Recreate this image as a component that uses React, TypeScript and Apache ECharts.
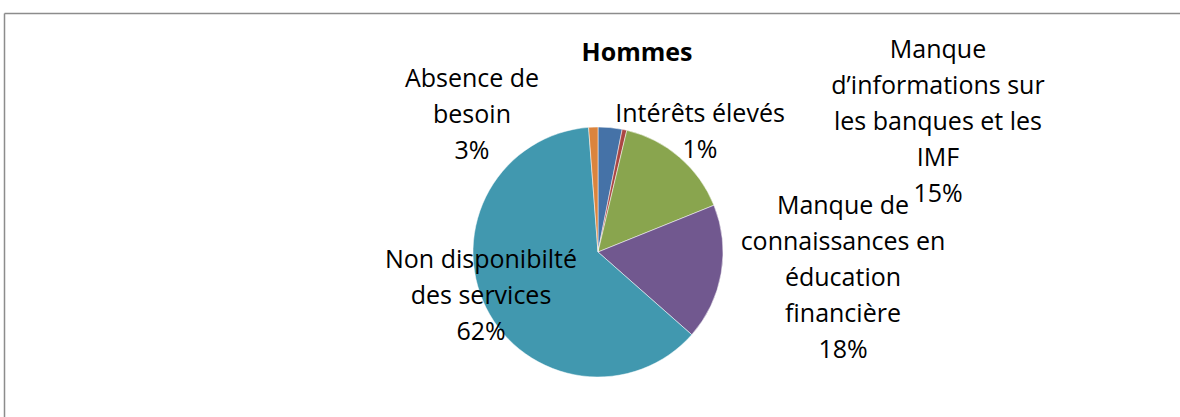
import React, { useEffect, useRef } from "react";
import * as echarts from "echarts";

const titleText = "Hommes";
const categories = [
  "Absence de\nbesoin",
  "Intérêts élevés",
  "Manque\nd’informations sur\nles banques et les\nIMF",
  "Manque de\nconnaissances en\néducation\nfinancière",
  "Non disponibilté\ndes services",
  "",
];
const values = [3.1, 0.6, 15.2, 17.6, 62.3, 1.2];
const showLabel = [true, true, true, true, true, false];
const colors = ["#4572A7", "#AA4643", "#89A54E", "#71588F", "#4198AF", "#DB843D"];

const labelPos: [number, number][] = [
  [472, 113],
  [700, 130],
  [938, 120],
  [843, 276],
  [481, 294],
  [0, 0],
];

export default function App() {
  const ref = useRef<HTMLDivElement>(null);
  useEffect(() => {
    if (!ref.current) return;
    const chart = echarts.init(ref.current, null, { renderer: "svg" });
    const font = "'Open Sans', 'Noto Sans', sans-serif";
    chart.setOption({
      animation: false,
      backgroundColor: "#ffffff",
      graphic: [
        { type: "line", shape: { x1: 4.5, y1: 13.5, x2: 1180, y2: 13.5 }, style: { stroke: "#8c8c8c", lineWidth: 1.5 } },
        { type: "line", shape: { x1: 4.5, y1: 13.5, x2: 4.5, y2: 417 }, style: { stroke: "#8c8c8c", lineWidth: 1.5 } },
        {
          type: "text",
          x: 637,
          y: 51,
          style: {
            text: titleText,
            fontFamily: font,
            fontSize: 25,
            fontWeight: "bold",
            fill: "#000",
            align: "center",
            verticalAlign: "middle",
          },
        },
      ],
      series: [
        {
          type: "pie",
          center: [598, 252],
          radius: 125,
          startAngle: 90,
          clockwise: true,
          avoidLabelOverlap: false,
          itemStyle: { borderColor: "#ffffff", borderWidth: 0.5 },
          label: {
            show: true,
            position: "outside",
            fontFamily: font,
            fontSize: 25,
            lineHeight: 36,
            color: "#000",
            align: "center",
            formatter: (p: any) => `${p.name}\n${Math.round(p.value)}%`,
          },
          labelLine: { show: false },
          labelLayout: (params: any) => {
            const pos = labelPos[params.dataIndex];
            return { x: pos[0], y: pos[1], align: "center", verticalAlign: "middle" };
          },
          data: categories.map((c, i) => ({
            name: c,
            value: values[i],
            itemStyle: { color: colors[i] },
            label: { show: showLabel[i] },
          })),
        },
      ],
    });
    return () => chart.dispose();
  }, []);
  return (
    <div
      ref={ref}
      style={{ position: "absolute", left: 0, top: 0, width: 1180, height: 417 }}
    />
  );
}
